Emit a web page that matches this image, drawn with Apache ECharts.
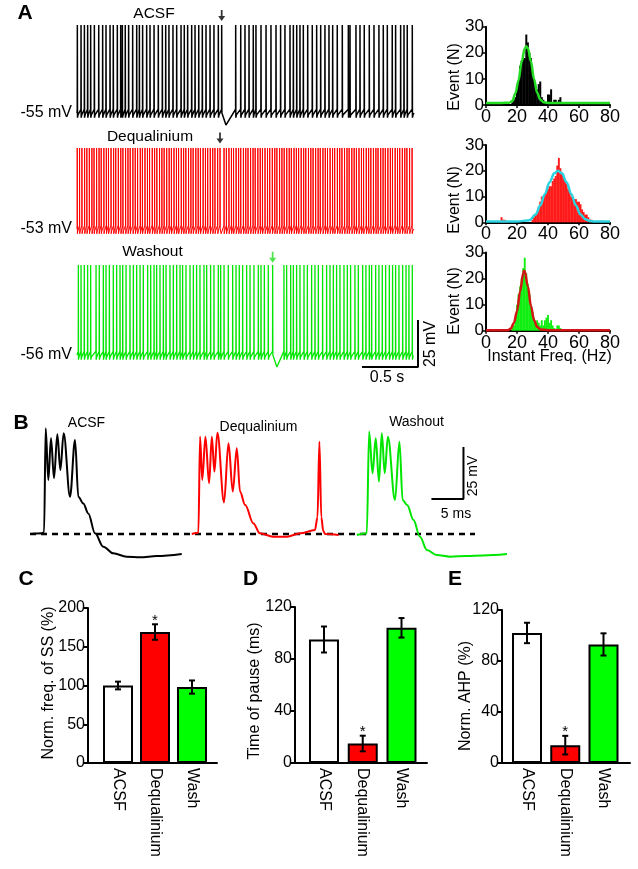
<!DOCTYPE html>
<html><head><meta charset="utf-8">
<script src="https://cdn.jsdelivr.net/npm/echarts@6/dist/echarts.min.js"></script>
<style>html,body{margin:0;padding:0;background:#fff}#c{width:638px;height:869px}</style>
</head><body><div id="c"></div>
<script>
// ================= DATA =================
// Panel A: spike times (ms)
const acsfSpikesMs = [3,36,66,95,122,155,194,229,259,295,324,360,390,405,431,461,497,533,557,586,622,652,688,726,762,792,821,857,890,929,958,988,1024,1054,1087,1119,1152,1188,1223,1262,1292,
  1417,1462,1500,1536,1574,1598,1643,1688,1732,1777,1818,1857,1902,1932,1962,1991,2021,2060,2101,2140,2176,2214,2250,2283,2324,2369,2423,2438,2491,2527,2565,2610,2652,2696,2735,2771,2815,2845,2890,2920,2949,2994];
const deqSpikesMs = [2,23,44,68,88,110,133,152,175,197,216,240,262,281,304,327,346,369,391,410,434,455,475,499,520,541,565,584,607,629,648,672,693,713,737,758,778,801,823,843,866,888,907,931,952,972,996,1017,1037,1061,1082,1102,1126,1147,1167,1190,1212,1232,1256,1277,
  1313,1334,1357,1379,1398,1421,1443,1462,1486,1507,1527,1550,1572,1591,1615,1636,1656,1679,1701,1721,1744,1766,1785,1809,1830,1850,1873,1895,1914,1938,1959,1979,2002,2024,2043,2067,2088,2108,2131,2153,2172,2196,2217,2237,2260,2282,2301,2325,2346,2366,2389,2411,2430,2454,2475,2495,2518,2540,2559,2583,2604,2624,2647,2669,2688,2712,2733,2753,2776,2798,2817,2841,2862,2882,2905,2927,2946,2970,2992];
const washSpikesMs = [12,36,65,95,122,170,199,235,259,289,324,354,384,408,438,473,503,533,563,592,631,658,688,711,741,771,795,830,860,890,920,943,973,1009,1039,1068,1098,1134,1158,1193,1223,1262,1283,1313,1351,1390,1420,1449,1479,1515,1545,1580,1619,1643,1673,1708,1747,
  1848,1872,1908,1932,1961,1991,2027,2057,2095,2125,2155,2193,2229,2259,2289,2318,2348,2384,2414,2443,2482,2512,2551,2580,2610,2631,2667,2696,2726,2756,2789,2818,2845,2875,2908,2938,2964,2994];
const traceNames = ['ACSF', 'Dequalinium', 'Washout'];
const restMv = [-55, -53, -56];
const peakMv = [-8.2, -9.9, -8.1];
const traceEndMs = [3009, 3009, 3000];
const pauseSpikeMs = [1292, 1277, 1747];
const pauseDipMs = [1330, 1287, 1785];
const pauseDipMv = [-61.4, -55.5, -62.4];
const arrowMv = [-3.2, -4.6, -4.0];
const scaleBarAMs = [2545, 3045];
const scaleBarAMv = [-62.4, -37.4];

// Panel A histograms (instant frequency, Hz -> events)
const acsfHistHz = [17,18,19,20,21,22,23,24,25,26,27,28,29,30,31,32,33,34,35,36,37,38,40,41,42,43,44,45,47,48];
const acsfHistN  = [1,2,3,6,9,15,17,18,18,27,24,20,18,12,10,7,6,8,9,3,2,1,4,4,6,1,2,2,2,3];
const acsfFitHz = [0,10,15,17,19,21,23,25,26,27,29,31,33,35,37,40,50,80];
const acsfFitN  = [0.8,0.8,0.9,1.5,4.5,9.5,16.5,21.6,22.5,21.8,16.7,9.9,4.7,2.1,1.1,0.8,0.8,0.8];
const deqHistHz = [10,11,12,13,30,31,32,33,34,35,36,37,38,39,40,41,42,43,44,45,46,47,48,49,50,51,52,53,54,55,56,57,58,59,60,61,62,63,64,65,66,67,68,74,75];
const deqHistN  = [2,1,1,0.6,1,2,3,4,6,8,10,10,11,12,13,14,14,16,17,18,22,25,21,19,18,16,15,13,12,10,9,9,9,8,8,7,5,4,3,3,2,1,1,0.6,0.6];
const deqFitHz = [0,20,28,32,35,38,41,44,46.5,49,52,55,58,61,64,67,70,80];
const deqFitN  = [0.3,0.3,0.8,3,6.5,11,15.5,19,20,19,15.5,11,6.5,3,1.2,0.5,0.3,0.3];
const washHistHz = [17,18,19,20,21,22,23,24,25,26,27,28,29,30,31,32,33,34,35,36,37,38,39,40,41,42,43,44,46,47,48];
const washHistN  = [1,2,5,10,14,17,20,24,28,22,18,14,10,7,5,3,4,3,2,4,2,4,5,6,3,4,2,1,2,2,1];
const washFitHz = [0,14,16,18,20,22,24,24.5,25,27,29,31,33,35,40,80];
const washFitN  = [0.2,0.2,0.8,3,7.5,15,22,23,22.8,17,9.5,4,1.5,0.5,0.2,0.2];
const histTicksHz = [0, 80, 20];   // min, max, step
const histTicksN = [0, 30, 10];

// Panel B: burst waveforms [ms, mV relative to baseline]
const acsfBurst = [[0,0],[1.8,0.3],[2.2,0.8],[2.45,50.8],[2.86,26],[3.28,46],[3.75,26.8],[4.27,47.9],[4.74,30.8],[5.26,48.4],[6.25,17.9],[7.03,45.2],[7.55,17.9],[8.33,14.7],[9.1,9.9],[10.16,0.3],[11.45,-6.1],[13.0,-9.3],[15.1,-10.9],[17.2,-11.2],[19.8,-10.6],[23.7,-9.6]];
const deqBurst = [[25.26,0],[26.3,0.6],[26.56,46.8],[26.9,26],[27.4,46.8],[27.97,24.4],[28.4,46.8],[28.8,30],[29.27,48.7],[30.3,15.2],[31.0,43.6],[31.67,20.4],[32.3,41.2],[32.8,20.4],[33.6,13.9],[34.9,5.1],[35.9,0.3],[38.0,-1.3],[40.1,-1.3],[42.2,0.3],[44.5,1.9],[44.9,8],[45.2,44.4],[45.5,8],[45.8,1.5],[46.1,0],[48.2,-0.5]];
const washBurst = [[51.05,-0.5],[52.6,0.3],[52.97,49.2],[53.5,29.2],[54.0,46],[54.5,25.2],[54.95,48.4],[55.4,29.2],[55.9,46.8],[57.0,16.3],[57.7,44.4],[58.2,16.3],[58.9,13.9],[59.9,6.7],[60.9,-1.3],[62.0,-7.7],[63.5,-10.1],[65.6,-10.9],[68.2,-10.6],[70.8,-10.3],[74.5,-9.6]];
const burstBaselineMs = [0, 69.5];
const scaleBarBMs = [62.7, 67.7];
const scaleBarBMv = [16.8, 41.8];

// Panels C-E
const barCats = ['ACSF', 'Dequalinium', 'Wash'];
const ssFreqMean = [100, 169, 98];
const ssFreqErr  = [5, 10, 8.5];
const pauseMean  = [95, 15, 104];
const pauseErr   = [10, 6, 7.5];
const ahpMean    = [102, 14, 93];
const ahpErr     = [8, 7.3, 8.7];
const sigMark    = [false, true, false];

// ================= RENDER =================
const FONT = '"Liberation Sans", Arial, Helvetica, sans-serif';
const C_BLACK = '#000000', C_RED = '#ff0000', C_GREEN = '#00e600';
const traceColors = [C_BLACK, C_RED, C_GREEN];
const arrowColors = [C_BLACK, C_BLACK, '#22dd22'];
const ARROW = 'path://M3,0 L5,0 L5,6 L8,6 L4,11 L0,6 L3,6 Z';

function mkTrace(spikes, rest, peak, pauseT, dipT, dipV, endT) {
  const d = [[0, rest]];
  spikes.forEach(t => {
    d.push([t - 0.8, rest + 2]);
    d.push([t, peak]);
    if (t === pauseT) { d.push([t + 2, rest]); d.push([dipT, dipV]); }
    else { d.push([t + 1.5, rest - 2.5]); d.push([t + 6, rest - 1]); }
  });
  d.push([endT, rest]);
  return d;
}
const pairs = (a, b) => a.map((v, i) => [v, b[i]]);

const grids = [
  {left: 77, top: 15, width: 341, height: 115},
  {left: 77, top: 140, width: 341, height: 100},
  {left: 77, top: 250, width: 341, height: 122},
  {left: 486, top: 26.7, width: 124, height: 78.3},
  {left: 486, top: 145, width: 124, height: 77.3},
  {left: 486, top: 252.5, width: 124, height: 78.2},
  {left: 30, top: 420, width: 477, height: 140},
  {left: 88, top: 608, width: 129, height: 155},
  {left: 295, top: 607, width: 132, height: 156},
  {left: 502, top: 610, width: 128, height: 153}
].map(g => Object.assign({outerBoundsMode: 'none', containLabel: false}, g));

// A trace vertical ranges: 25 mV = 47 px
const mvPerPx = 25 / 47;
const restPx = [113, 229, 355];
const traceY = grids.slice(0, 3).map((g, i) => ({
  max: restMv[i] + (restPx[i] - g.top) * mvPerPx,
  min: restMv[i] - (g.top + g.height - restPx[i]) * mvPerPx
}));

const xAxes = [], yAxes = [];
const axisLine = {show: true, onZero: false, lineStyle: {color: '#000', width: 2}};
const tick = {show: true, length: 3, lineStyle: {color: '#000', width: 1.5}};
for (let i = 0; i < 3; i++) {
  xAxes.push({type: 'value', gridIndex: i, min: 0, max: 3045, show: false});
  yAxes.push({type: 'value', gridIndex: i, min: traceY[i].min, max: traceY[i].max,
    axisLine: {show: false}, axisTick: {show: false}, splitLine: {show: false},
    axisLabel: {customValues: [restMv[i]], formatter: v => v + ' mV', margin: 5,
      fontSize: 16, color: '#000', fontFamily: FONT}});
}
for (let i = 3; i < 6; i++) {
  xAxes.push({type: 'value', gridIndex: i, min: histTicksHz[0], max: histTicksHz[1], interval: histTicksHz[2],
    axisLine, axisTick: tick, splitLine: {show: false},
    axisLabel: {fontSize: 18, color: '#000', margin: 3, fontFamily: FONT}});
  yAxes.push({type: 'value', gridIndex: i, min: histTicksN[0], max: histTicksN[1], interval: histTicksN[2],
    axisLine, axisTick: tick, splitLine: {show: false},
    axisLabel: {fontSize: 17, color: '#000', margin: 2, fontFamily: FONT}});
}
xAxes.push({type: 'value', gridIndex: 6, min: 0, max: 74.5, show: false});
yAxes.push({type: 'value', gridIndex: 6, min: -12.5, max: 54.8, show: false});
const barX = [[0.189, 3.676], [0.252, 3.658], [0.346, 3.693]];
const barY = [[200, 50], [120, 40], [120, 40]];
for (let k = 0; k < 3; k++) {
  xAxes.push({type: 'value', gridIndex: 7 + k, min: barX[k][0], max: barX[k][1],
    axisLine, axisTick: {show: false}, splitLine: {show: false},
    axisLabel: {customValues: [1, 2, 3], formatter: v => barCats[Math.round(v) - 1],
      rotate: -90, fontSize: 16, color: '#000', margin: 5, fontFamily: FONT}});
  yAxes.push({type: 'value', gridIndex: 7 + k, min: 0, max: barY[k][0], interval: barY[k][1],
    axisLine, axisTick: {show: true, length: 4, lineStyle: {color: '#000', width: 2}}, splitLine: {show: false},
    axisLabel: {fontSize: 16, color: '#000', margin: 3, fontFamily: FONT}});
}

const series = [];
const spikeSets = [acsfSpikesMs, deqSpikesMs, washSpikesMs];
const traceWidths = [1.5, 1, 1.3];
for (let i = 0; i < 3; i++) {
  series.push({type: 'line', xAxisIndex: i, yAxisIndex: i, showSymbol: false, silent: true,
    data: mkTrace(spikeSets[i], restMv[i], peakMv[i], pauseSpikeMs[i], pauseDipMs[i], pauseDipMv[i], traceEndMs[i]),
    lineStyle: {color: traceColors[i], width: traceWidths[i]}, clip: false});
  series.push({type: 'scatter', xAxisIndex: i, yAxisIndex: i, symbol: ARROW, symbolSize: [7, 11],
    data: [[pauseSpikeMs[i], arrowMv[i]]], itemStyle: {color: arrowColors[i]}, clip: false, silent: true});
}
series.push({type: 'line', xAxisIndex: 2, yAxisIndex: 2, showSymbol: false, silent: true, clip: false,
  data: [[scaleBarAMs[0], scaleBarAMv[0]], [scaleBarAMs[1], scaleBarAMv[0]], [scaleBarAMs[1], scaleBarAMv[1]]],
  lineStyle: {color: '#000', width: 2}});

// histograms
const hists = [
  [acsfHistHz, acsfHistN, '#000000', acsfFitHz, acsfFitN, '#22dd22', 2],
  [deqHistHz, deqHistN, '#ff1a1a', deqFitHz, deqFitN, '#2bd3e0', 1.9],
  [washHistHz, washHistN, '#11ee11', washFitHz, washFitN, '#d41414', 1.9]
];
hists.forEach((h, k) => {
  const gi = 3 + k;
  series.push({type: 'bar', xAxisIndex: gi, yAxisIndex: gi, barWidth: h[6], silent: true,
    data: pairs(h[0], h[1]), itemStyle: {color: h[2]}});
  series.push({type: 'line', xAxisIndex: gi, yAxisIndex: gi, showSymbol: false, silent: true,
    smooth: 0.35, smoothMonotone: 'x', data: pairs(h[3], h[4]),
    lineStyle: {color: h[5], width: 2.5}, z: 5});
});

// Panel B
series.push({type: 'line', xAxisIndex: 6, yAxisIndex: 6, showSymbol: false, silent: true,
  data: [[burstBaselineMs[0], 0], [burstBaselineMs[1], 0]],
  lineStyle: {color: '#000', width: 2.5, type: [6, 5]}});
[[acsfBurst, C_BLACK], [deqBurst, C_RED], [washBurst, C_GREEN]].forEach(b => {
  series.push({type: 'line', xAxisIndex: 6, yAxisIndex: 6, showSymbol: false, silent: true, clip: false,
    smooth: 0.35, smoothMonotone: 'x', data: b[0], lineStyle: {color: b[1], width: 2}});
});
series.push({type: 'line', xAxisIndex: 6, yAxisIndex: 6, showSymbol: false, silent: true,
  data: [[scaleBarBMs[0], scaleBarBMv[0]], [scaleBarBMs[1], scaleBarBMv[0]], [scaleBarBMs[1], scaleBarBMv[1]]],
  lineStyle: {color: '#000', width: 2}});

// Panels C-E
const barColors = ['#ffffff', '#ff0000', '#00ff00'];
[[ssFreqMean, ssFreqErr], [pauseMean, pauseErr], [ahpMean, ahpErr]].forEach((m, k) => {
  const gi = 7 + k;
  series.push({type: 'bar', xAxisIndex: gi, yAxisIndex: gi, barWidth: 30, silent: true,
    data: m[0].map((v, i) => ({value: [i + 1, v], itemStyle: {color: barColors[i]}})),
    itemStyle: {borderColor: '#000', borderWidth: 2}});
  series.push({type: 'custom', xAxisIndex: gi, yAxisIndex: gi, silent: true, z: 10,
    data: m[0].map((v, i) => [i + 1, v - m[1][i], v + m[1][i], sigMark[i] ? 1 : 0]),
    encode: {x: 0, y: [1, 2]},
    renderItem: (params, api) => {
      const x = api.value(0);
      const lo = api.coord([x, api.value(1)]), hi = api.coord([x, api.value(2)]);
      const st = {stroke: '#000', lineWidth: 2};
      const ch = [
        {type: 'line', shape: {x1: lo[0], y1: lo[1], x2: hi[0], y2: hi[1]}, style: st},
        {type: 'line', shape: {x1: lo[0] - 3, y1: lo[1], x2: lo[0] + 3, y2: lo[1]}, style: st},
        {type: 'line', shape: {x1: hi[0] - 3, y1: hi[1], x2: hi[0] + 3, y2: hi[1]}, style: st}
      ];
      if (api.value(3)) ch.push({type: 'text', style: {text: '*', x: hi[0], y: hi[1] - 11,
        align: 'center', verticalAlign: 'top', fontSize: 15, fontFamily: FONT, fill: '#000'}});
      return {type: 'group', children: ch};
    }});
});

// text
function txt(s, x, y, size, opts) {
  opts = opts || {};
  return {type: 'text', x, y, rotation: opts.rot || 0, silent: true,
    style: {text: s, align: 'center', verticalAlign: 'middle', fill: opts.color || '#000',
      font: (opts.bold ? 'bold ' : '') + size + 'px ' + FONT}};
}
const R = Math.PI / 2;
const graphics = [
  txt('A', 25, 13.5, 21, {bold: true}),
  txt('B', 21, 423, 21, {bold: true}),
  txt('C', 26, 579, 21, {bold: true}),
  txt('D', 250.5, 579, 21, {bold: true}),
  txt('E', 455, 579, 21, {bold: true}),
  txt(traceNames[0], 154, 14, 15.5),
  txt(traceNames[1], 150, 137, 15.5),
  txt(traceNames[2], 152.5, 252, 15.5),
  txt('0.5 s', 387, 378, 16),
  txt('25 mV', 431, 344, 16, {rot: R}),
  txt('Event (N)', 454.5, 77, 16, {rot: R}),
  txt('Event (N)', 454.5, 200, 16, {rot: R}),
  txt('Event (N)', 454.5, 301, 16, {rot: R}),
  txt('Instant Freq. (Hz)', 549.5, 357, 16),
  txt(traceNames[0], 86.5, 423, 14),
  txt(traceNames[1], 258.5, 427, 14),
  txt(traceNames[2], 416.5, 422, 14),
  txt('5 ms', 456, 514, 14),
  txt('25 mV', 473.5, 476, 14, {rot: R}),
  txt('Norm. freq. of SS (%)', 49, 683, 16, {rot: R}),
  txt('Time of pause (ms)', 254.5, 691, 16, {rot: R}),
  txt('Norm. AHP (%)', 466, 696, 16, {rot: R})
];

const chart = echarts.init(document.getElementById('c'), null, {renderer: 'canvas'});
chart.setOption({
  animation: false,
  backgroundColor: '#ffffff',
  textStyle: {fontFamily: FONT},
  grid: grids, xAxis: xAxes, yAxis: yAxes, series,
  graphic: {elements: graphics}
});
</script></body></html>
